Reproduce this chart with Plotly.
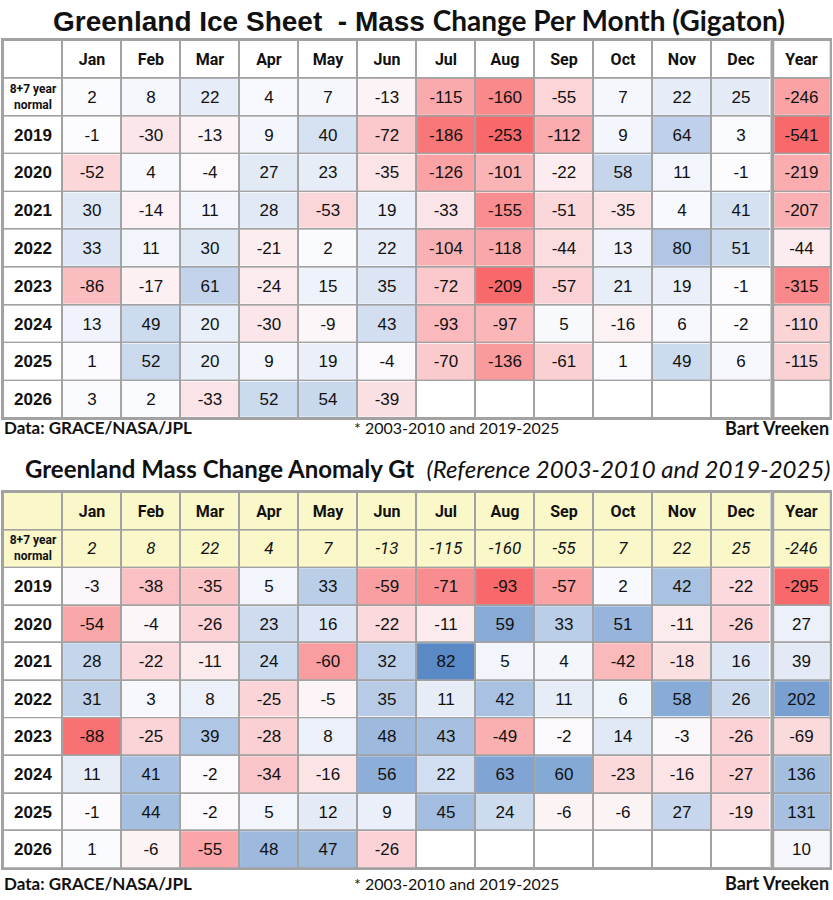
import plotly.graph_objects as go

# ---- data -------------------------------------------------------------
MONTHS = ["Jan", "Feb", "Mar", "Apr", "May", "Jun",
          "Jul", "Aug", "Sep", "Oct", "Nov", "Dec"]
YEARS = ["2019", "2020", "2021", "2022", "2023", "2024", "2025", "2026"]
NORMAL_LABEL = "8+7 year<br>normal"

# 8+7 year normal (2003-2010 and 2019-2025), Gt per month
normal = [2, 8, 22, 4, 7, -13, -115, -160, -55, 7, 22, 25]
normal_year = -246

# mass change per month (Gigaton)
mass_2019 = [-1, -30, -13, 9, 40, -72, -186, -253, -112, 9, 64, 3]
mass_2020 = [-52, 4, -4, 27, 23, -35, -126, -101, -22, 58, 11, -1]
mass_2021 = [30, -14, 11, 28, -53, 19, -33, -155, -51, -35, 4, 41]
mass_2022 = [33, 11, 30, -21, 2, 22, -104, -118, -44, 13, 80, 51]
mass_2023 = [-86, -17, 61, -24, 15, 35, -72, -209, -57, 21, 19, -1]
mass_2024 = [13, 49, 20, -30, -9, 43, -93, -97, 5, -16, 6, -2]
mass_2025 = [1, 52, 20, 9, 19, -4, -70, -136, -61, 1, 49, 6]
mass_2026 = [3, 2, -33, 52, 54, -39, None, None, None, None, None, None]
mass_year = [-541, -219, -207, -44, -315, -110, -115, None]

# anomaly vs the normal (Gt)
anom_2019 = [-3, -38, -35, 5, 33, -59, -71, -93, -57, 2, 42, -22]
anom_2020 = [-54, -4, -26, 23, 16, -22, -11, 59, 33, 51, -11, -26]
anom_2021 = [28, -22, -11, 24, -60, 32, 82, 5, 4, -42, -18, 16]
anom_2022 = [31, 3, 8, -25, -5, 35, 11, 42, 11, 6, 58, 26]
anom_2023 = [-88, -25, 39, -28, 8, 48, 43, -49, -2, 14, -3, -26]
anom_2024 = [11, 41, -2, -34, -16, 56, 22, 63, 60, -23, -16, -27]
anom_2025 = [-1, 44, -2, 5, 12, 9, 45, 24, -6, -6, 27, -19]
anom_2026 = [1, -6, -55, 48, 47, -26, None, None, None, None, None, None]
anom_year = [-295, 27, 39, 202, -69, 136, 131, 10]

mass_rows = [mass_2019, mass_2020, mass_2021, mass_2022,
             mass_2023, mass_2024, mass_2025, mass_2026]
anom_rows = [anom_2019, anom_2020, anom_2021, anom_2022,
             anom_2023, anom_2024, anom_2025, anom_2026]

# ---- styling ------------------------------------------------------------
W, H = 833, 900
RED, MID, BLUE = "#F8696B", "#FCFCFF", "#5A8AC6"
YELLOW = "#FAF8C8"
GRID = "#A2A2A2"
INK = "#111111"
NUM_FONT = dict(family="Liberation Sans, Arial", size=17, color=INK)
LAB_FONT = dict(family="Liberation Sans, Arial", size=17, color=INK)
HDR_FONT = dict(family="Roboto, Arial", size=16, color=INK)
SMALL_FONT = dict(family="Roboto, Arial", size=12, color=INK)
ITAL_FONT = dict(family="Roboto, Arial", size=17, color=INK)

COLS = ["label"] + MONTHS
ROWS = ["hdr", "normal"] + YEARS


def cx(names):
    return [COLS.index(n) for n in names]


def ry(names):
    return [ROWS.index(n) for n in names]


def diverging(lo, hi):
    f = -lo / (hi - lo)
    return [[0, RED], [f, MID], [1, BLUE]], lo, hi


def flat(c):
    return [[0, c], [1, c]]


def fmt(v, tag=None):
    if v is None:
        return ""
    s = str(v)
    return f"<{tag}>{s}</{tag}>" if tag else s


fig = go.Figure()


def cells(xa, ya, xs, ys, z, scale, zmin, zmax, text, font):
    fig.add_trace(go.Heatmap(
        x=xs, y=ys, z=z, text=text, texttemplate="%{text}", textfont=font,
        colorscale=scale, zmin=zmin, zmax=zmax, showscale=False,
        xgap=2, ygap=2, hoverinfo="skip", xaxis=xa, yaxis=ya))


def table(xa, xb, ya, yb, rows, year_vals, month_scale, year_scale, yellow):
    band = YELLOW if yellow else "#FFFFFF"
    # white base under everything (blank 2026 cells stay white)
    cells(xa, ya, cx(COLS), ry(ROWS), [[0] * len(COLS) for _ in ROWS],
          flat("#FFFFFF"), 0, 1, None, NUM_FONT)
    cells(xb, yb, [0], ry(ROWS), [[0] for _ in ROWS],
          flat("#FFFFFF"), 0, 1, None, NUM_FONT)
    # header row
    cells(xa, ya, cx(COLS), ry(["hdr"]), [[0] * len(COLS)], flat(band), 0, 1,
          [[""] + [fmt(m, "b") for m in MONTHS]], HDR_FONT)
    cells(xb, yb, [0], ry(["hdr"]), [[0]], flat(band), 0, 1,
          [[fmt("Year", "b")]], HDR_FONT)
    # row labels
    cells(xa, ya, cx(["label"]), ry(["normal"]), [[0]], flat(band), 0, 1,
          [[fmt(NORMAL_LABEL, "b")]], SMALL_FONT)
    cells(xa, ya, cx(["label"]), ry(YEARS), [[0] for _ in YEARS],
          flat("#FFFFFF"), 0, 1, [[fmt(y, "b")] for y in YEARS], LAB_FONT)
    ms, mlo, mhi = month_scale
    ys_, ylo, yhi = year_scale
    # normal row
    if yellow:
        cells(xa, ya, cx(MONTHS), ry(["normal"]), [[0] * 12], flat(YELLOW), 0, 1,
              [[fmt(v, "i") for v in normal]], ITAL_FONT)
        cells(xb, yb, [0], ry(["normal"]), [[0]], flat(YELLOW), 0, 1,
              [[fmt(normal_year, "i")]], ITAL_FONT)
    else:
        cells(xa, ya, cx(MONTHS), ry(["normal"]), [normal], ms, mlo, mhi,
              [[fmt(v) for v in normal]], NUM_FONT)
        cells(xb, yb, [0], ry(["normal"]), [[normal_year]], ys_, ylo, yhi,
              [[fmt(normal_year)]], NUM_FONT)
    # yearly rows
    cells(xa, ya, cx(MONTHS), ry(YEARS), rows, ms, mlo, mhi,
          [[fmt(v) for v in r] for r in rows], NUM_FONT)
    cells(xb, yb, [0], ry(YEARS), [[v] for v in year_vals], ys_, ylo, yhi,
          [[fmt(v)] for v in year_vals], NUM_FONT)


table("x", "x2", "y", "y2", mass_rows, mass_year,
      diverging(-205, 170), diverging(-400, 300), yellow=False)
table("x3", "x4", "y3", "y4", anom_rows, anom_year,
      diverging(-93, 82), diverging(-295, 250), yellow=True)


def dom_x(a, b):
    return [a / W, b / W]


def dom_y(top, bottom):
    return [1 - bottom / H, 1 - top / H]


axis_common = dict(showticklabels=False, ticks="", showgrid=False,
                   zeroline=False, showline=True, mirror=True,
                   linecolor=GRID, linewidth=2, fixedrange=True)

layout_axes = {}
for (a, b), (top, bottom) in zip([("", "2"), ("3", "4")], [(40, 418), (492, 868)]):
    layout_axes["xaxis" + a] = dict(
        axis_common, range=[-0.5, len(COLS) - 0.5], domain=dom_x(3, 770.5),
        anchor="y" + a)
    layout_axes["xaxis" + b] = dict(
        axis_common, range=[-0.5, 0.5], domain=dom_x(773.5, 830),
        anchor="y" + b)
    layout_axes["yaxis" + a] = dict(
        axis_common, range=[len(ROWS) - 0.5, -0.5],
        domain=dom_y(top, bottom), anchor="x" + a)
    layout_axes["yaxis" + b] = dict(
        axis_common, range=[len(ROWS) - 0.5, -0.5],
        domain=dom_y(top, bottom), anchor="x" + b)

fig.update_layout(
    width=W, height=H, margin=dict(l=0, r=0, t=0, b=0),
    paper_bgcolor="#FFFFFF", plot_bgcolor=GRID, showlegend=False,
    **layout_axes)


def note(text, x, y, anchor, font):
    fig.add_annotation(text=text, x=x / W, y=1 - y / H, xref="paper", yref="paper",
                       xanchor=anchor, yanchor="middle", showarrow=False, font=font)


note("<b>Greenland Ice Sheet  - Mass</b> "
     "<b><span style='font-family:Lato'>Change Per Month (Gigaton)</span></b>",
     419, 20, "center", dict(family="Liberation Sans, Arial", size=28, color="#111"))
note("<b>Greenland Mass Change Anomaly Gt</b>  "
     "<i>(Reference 2003-2010 and 2019-2025)</i>",
     428, 468, "center", dict(family="Lato", size=24, color="#111"))

for y in (428, 883):
    note("<b>Data: GRACE/NASA/JPL</b>", 2, y, "left", dict(family="Lato", size=17, color="#111"))
    note("* 2003-2010 and 2019-2025", 456, y, "center", dict(family="Lato", size=16, color="#111"))
    note("<b>Bart Vreeken</b>", 831, y, "right", dict(family="Lato", size=18, color="#111"))

fig.write_html("out.html", config={"displayModeBar": False},
               post_script="document.body.style.margin='0px';")
